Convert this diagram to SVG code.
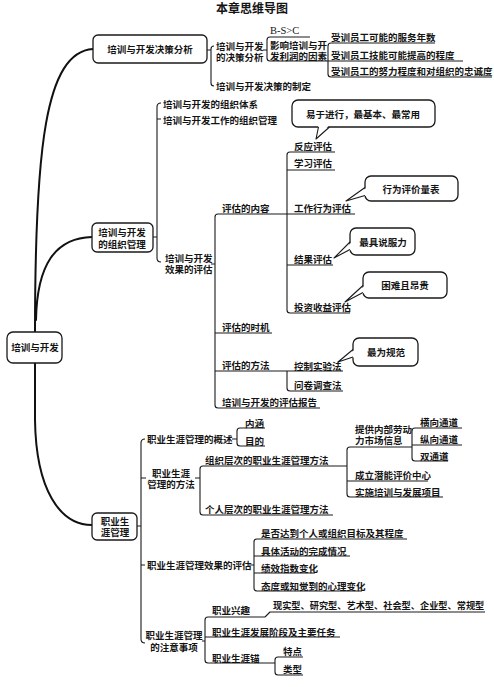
<svg xmlns="http://www.w3.org/2000/svg" width="494" height="687" viewBox="0 0 494 687">
<style>
text{font-family:"Liberation Sans","Noto Sans CJK SC",sans-serif;font-size:9.5px;font-weight:700;fill:#141414;dominant-baseline:central}
.m{text-anchor:middle}
.title{font-size:12px}
.lat{font-family:"Liberation Serif",serif;font-weight:400;font-size:10.5px}
.box{fill:#fff;stroke:#1a1a1a;stroke-width:1.3}
.ln{fill:none;stroke:#1a1a1a;stroke-width:1.1;stroke-linejoin:round}
.trunk{fill:none;stroke:#111;stroke-width:2;stroke-linecap:round}
.cut{fill:#fff;stroke:none}
</style>
<rect width="494" height="687" fill="#fff"/>
<text class="title m" x="252" y="9">本章思维导图</text>

<g id="connectors">
  <path class="trunk" d="M35,332 C35,150 45,52 93,49"/>
  <path class="trunk" d="M92,237 C55,238 37,265 36,320"/>
  <path class="trunk" d="M35,363 L35,420 C36,490 60,525 92,525"/>
  <path class="ln" d="M207,50 L211,50 M214,46 Q211,46 211,49 L211,83 Q211,86 214,86"/>
  <path class="ln" d="M263,50 L267,50 M310,37 L270,37 Q267,37 267,40 L267,58 Q267,61 270,61 L463,61"/>
  <path class="ln" d="M435,43 L331,43 Q328,43 328,46 L328,74 Q328,77 331,77 L492,77"/>
  <path class="ln" d="M153,237 L157,237 M161,103 Q157,103 157,107 L157,258 Q157,262 161,262 M157,119 L161,119"/>
  <path class="ln" d="M211,264 L215,264 M287,214 L218,214 Q215,214 215,217 L215,405 Q215,408 218,408 L320,408 M215,333 L272,333 M215,371 L343,371"/>
  <path class="ln" d="M335,152 L290,152 Q287,152 287,155 L287,310 Q287,313 290,313 L350,313 M287,170 L335,170 M287,214 L355,214 M287,265 L333,265"/>
  <path class="ln" d="M287,371 L287,388 Q287,391 290,391 L343,391"/>
  <path class="ln" d="M137,526 L141,526 M145,439 Q141,439 141,443 L141,639 Q141,643 145,643 M141,478 L146,478 M141,565 L145,565"/>
  <path class="ln" d="M232,439 L237,439 M265,428 L240,428 Q237,428 237,431 L237,443 Q237,446 240,446 L265,446"/>
  <path class="ln" d="M195,478 L200,478 M347,466 L203,466 Q200,466 200,469 L200,512 Q200,515 203,515 L333,515"/>
  <path class="ln" d="M412,447 L350,447 Q347,447 347,450 L347,494 Q347,497 350,497 L443,497 M347,481 L428,481"/>
  <path class="ln" d="M462,428 L415,428 Q412,428 412,431 L412,458 Q412,461 415,461 L448,461 M412,445 L462,445"/>
  <path class="ln" d="M249,565 L254,565 M407,539 L257,539 Q254,539 254,542 L254,588 Q254,591 257,591 L362,591 M254,556 L350,556 M254,573 L315,573"/>
  <path class="ln" d="M202,641 L205,641 M265,617 L208,617 Q205,617 205,620 L205,660 Q205,663 208,663 L275,663 M265,617 L270,612 L485,612 M205,637 L340,637"/>
  <path class="ln" d="M303,657 L278,657 Q275,657 275,660 L275,672 Q275,675 278,675 L303,675"/>
</g>

<g id="root">
  <rect class="box" x="7" y="332" width="55" height="31" rx="6"/>
  <text class="m" x="35" y="347">培训与开发</text>
</g>

<g id="n-decision">
  <rect class="box" x="93" y="35" width="114" height="28" rx="5"/>
  <text class="m" x="150" y="49.5">培训与开发决策分析</text>
  <text x="216" y="46"><tspan x="216" y="45.5">培训与开发</tspan><tspan x="216" y="57">的决策分析</tspan></text>
  <text x="216" y="86">培训与开发决策的制定</text>
  <text class="lat" x="270" y="30">B-S&gt;C</text>
  <text x="270" y="45"><tspan x="270" y="44.5">影响培训与开</tspan><tspan x="270" y="56">发利润的因素</tspan></text>
  <text x="331" y="37.5">受训员工可能的服务年数</text>
  <text x="331" y="55">受训员工技能可能提高的程度</text>
  <text x="331" y="71.5">受训员工的努力程度和对组织的忠诚度</text>
</g>

<g id="n-org">
  <rect class="box" x="92" y="223" width="61" height="29" rx="5"/>
  <text class="m" x="122" y="232"><tspan x="122" y="231.5">培训与开发</tspan><tspan x="122" y="243.5">的组织管理</tspan></text>
  <text x="163" y="104">培训与开发的组织体系</text>
  <text x="163" y="120">培训与开发工作的组织管理</text>
  <text x="165" y="258"><tspan x="165" y="257.5">培训与开发</tspan><tspan x="165" y="269">效果的评估</tspan></text>
  <text x="222" y="208">评估的内容</text>
  <text x="222" y="327">评估的时机</text>
  <text x="222" y="365">评估的方法</text>
  <text x="222" y="402">培训与开发的评估报告</text>
  <text x="294" y="146">反应评估</text>
  <text x="294" y="163">学习评估</text>
  <text x="294" y="208">工作行为评估</text>
  <text x="294" y="259">结果评估</text>
  <text x="294" y="307">投资收益评估</text>
  <text x="294" y="366">控制实验法</text>
  <text x="294" y="385">问卷调查法</text>
</g>

<g id="callouts">
  <rect class="box" x="292" y="100" width="143" height="27" rx="6"/>
  <polygon class="cut" points="318.5,125 329.5,125 316,139"/>
  <polyline class="ln" points="318.5,127 316,139 329.5,127"/>
  <text class="m" x="363" y="114">易于进行，最基本、最常用</text>

  <rect class="box" x="365" y="176" width="93" height="25" rx="6"/>
  <polygon class="cut" points="367,187.5 367,195.5 346,201"/>
  <polyline class="ln" points="365,187.5 346,201 365,195.5"/>
  <text class="m" x="411" y="189">行为评价量表</text>

  <rect class="box" x="350" y="228" width="65" height="27" rx="6"/>
  <polygon class="cut" points="352,242 352,249.5 334,258"/>
  <polyline class="ln" points="350,242 334,258 350,249.5"/>
  <text class="m" x="383" y="242">最具说服力</text>

  <rect class="box" x="363" y="272" width="84" height="26" rx="6"/>
  <polygon class="cut" points="365,285.5 365,292.5 345,302"/>
  <polyline class="ln" points="363,285.5 345,302 363,292.5"/>
  <text class="m" x="405" y="285">困难且昂贵</text>

  <rect class="box" x="353" y="338" width="65" height="28" rx="6"/>
  <polygon class="cut" points="355,349.5 355,357 338,362"/>
  <polyline class="ln" points="353,349.5 338,362 353,357"/>
  <text class="m" x="386" y="352.5">最为规范</text>
</g>

<g id="n-career">
  <rect class="box" x="92" y="513" width="45" height="27" rx="5"/>
  <text class="m" x="115" y="521"><tspan x="115" y="520.5">职业生</tspan><tspan x="115" y="532">涯管理</tspan></text>
  <text x="147" y="439">职业生涯管理的概述</text>
  <text x="245" y="423">内涵</text>
  <text x="245" y="441">目的</text>
  <text class="m" x="171" y="473"><tspan x="171" y="472.5">职业生涯</tspan><tspan x="171" y="484">管理的方法</tspan></text>
  <text x="205" y="460">组织层次的职业生涯管理方法</text>
  <text x="205" y="509">个人层次的职业生涯管理方法</text>
  <text x="355" y="429"><tspan x="355" y="428.5">提供内部劳动</tspan><tspan x="355" y="440">力市场信息</tspan></text>
  <text x="420" y="422">横向通道</text>
  <text x="420" y="439">纵向通道</text>
  <text x="420" y="456">双通道</text>
  <text x="355" y="475">成立潜能评价中心</text>
  <text x="355" y="492">实施培训与发展项目</text>
  <text x="147" y="565">职业生涯管理效果的评估</text>
  <text x="261" y="533">是否达到个人或组织目标及其程度</text>
  <text x="261" y="551">具体活动的完成情况</text>
  <text x="261" y="568">绩效指数变化</text>
  <text x="261" y="586">态度或知觉到的心理变化</text>
  <text class="m" x="174" y="636"><tspan x="174" y="635">职业生涯管理</tspan><tspan x="174" y="646.5">的注意事项</tspan></text>
  <text x="212" y="610">职业兴趣</text>
  <text x="273" y="606" style="font-size:9.2px">现实型、研究型、艺术型、社会型、企业型、常规型</text>
  <text x="212" y="632">职业生涯发展阶段及主要任务</text>
  <text x="212" y="658">职业生涯锚</text>
  <text x="283" y="651">特点</text>
  <text x="283" y="669">类型</text>
</g>
</svg>
